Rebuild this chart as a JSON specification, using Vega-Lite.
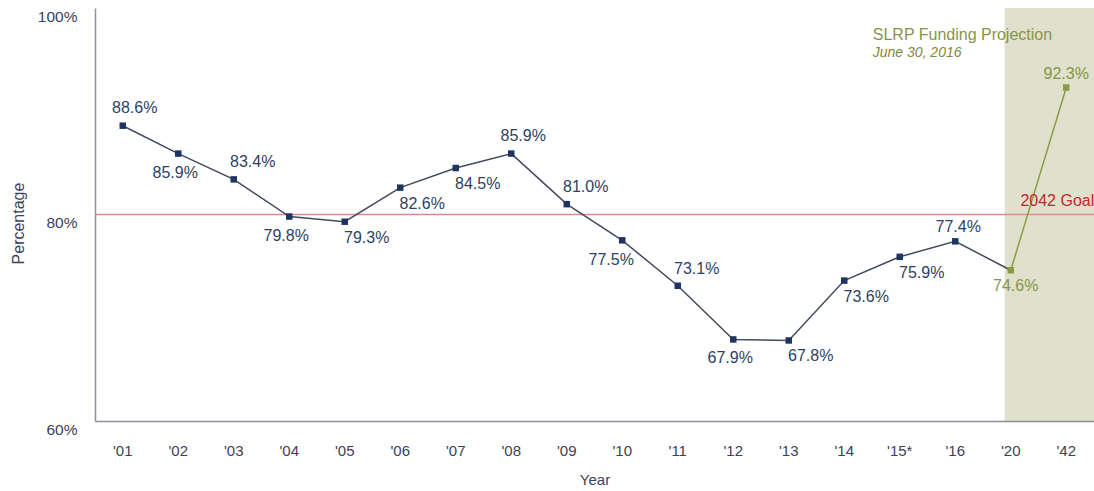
{
  "$schema": "https://vega.github.io/schema/vega-lite/v6.json",
  "width": 999,
  "height": 413,
  "autosize": "none",
  "padding": {"left": 95, "top": 8, "right": 0, "bottom": 70},
  "background": "white",
  "config": {
    "view": {"stroke": null},
    "font": "Liberation Sans",
    "text": {"font": "Liberation Sans"}
  },
  "data": {
    "values": [
      {"year": "'01", "value": 0.886, "series": "Actual"},
      {"year": "'02", "value": 0.859, "series": "Actual"},
      {"year": "'03", "value": 0.834, "series": "Actual"},
      {"year": "'04", "value": 0.798, "series": "Actual"},
      {"year": "'05", "value": 0.793, "series": "Actual"},
      {"year": "'06", "value": 0.826, "series": "Actual"},
      {"year": "'07", "value": 0.845, "series": "Actual"},
      {"year": "'08", "value": 0.859, "series": "Actual"},
      {"year": "'09", "value": 0.810, "series": "Actual"},
      {"year": "'10", "value": 0.775, "series": "Actual"},
      {"year": "'11", "value": 0.731, "series": "Actual"},
      {"year": "'12", "value": 0.679, "series": "Actual"},
      {"year": "'13", "value": 0.678, "series": "Actual"},
      {"year": "'14", "value": 0.736, "series": "Actual"},
      {"year": "'15*", "value": 0.759, "series": "Actual"},
      {"year": "'16", "value": 0.774, "series": "Actual"},
      {"year": "'20", "value": 0.746, "series": "Projection"},
      {"year": "'42", "value": 0.923, "series": "Projection"}
    ]
  },
  "encoding": {
    "x": {
      "field": "year",
      "type": "ordinal",
      "sort": ["'01","'02","'03","'04","'05","'06","'07","'08","'09","'10","'11","'12","'13","'14","'15*","'16","'20","'42"],
      "scale": {"type": "band", "paddingInner": 0, "paddingOuter": 0},
      "axis": {
        "title": "Year",
        "labelAngle": 0,
        "ticks": false,
        "tickSize": 0,
        "labelPadding": 22,
        "labelFont": "Liberation Sans",
        "labelFontSize": 15,
        "labelColor": "#3a4258",
        "titleFont": "Liberation Sans",
        "titleFontSize": 15,
        "titleFontWeight": "normal",
        "titleColor": "#3a4258",
        "titlePadding": 14,
        "domainColor": "#8d9099",
        "domainWidth": 1.5,
        "grid": false
      }
    },
    "y": {
      "field": "value",
      "type": "quantitative",
      "scale": {"domain": [0.6, 1.0], "nice": false, "zero": false},
      "axis": {
        "title": "Percentage",
        "values": [0.6, 0.8, 1.0],
        "format": ".0%",
        "ticks": false,
        "tickSize": 0,
        "grid": false,
        "labelPadding": 18,
        "labelOffset": 8,
        "labelFlush": false,
        "labelFont": "Liberation Sans",
        "labelFontSize": 15.5,
        "labelColor": "#3a4258",
        "titleFont": "Liberation Sans",
        "titleFontSize": 16,
        "titleFontWeight": "normal",
        "titleColor": "#3a4258",
        "titleX": -69,
        "titleY": 215,
        "domainColor": "#8d9099",
        "domainWidth": 1.5
      }
    }
  },
  "layer": [
    {
      "data": {"values": [{"start": "'20", "end": "'42"}]},
      "mark": {"type": "rect", "color": "#dfe1cc"},
      "encoding": {
        "x": {"field": "start", "type": "ordinal", "bandPosition": 0.39},
        "x2": {"field": "end", "bandPosition": 1},
        "y": null
      }
    },
    {
      "data": {"values": [{"goal": 0.8}]},
      "mark": {"type": "rule", "color": "#d98a90", "strokeWidth": 1.3},
      "encoding": {
        "x": null,
        "y": {"field": "goal", "type": "quantitative"}
      }
    },
    {
      "transform": [{"filter": "datum.year != \"'42\""}],
      "mark": {"type": "line", "color": "#434a5e", "strokeWidth": 1.5}
    },
    {
      "transform": [{"filter": "datum.series == 'Projection'"}],
      "mark": {"type": "line", "color": "#8d9a45", "strokeWidth": 1.5}
    },
    {
      "mark": {"type": "point", "shape": "square", "filled": true, "size": 42, "opacity": 1},
      "encoding": {
        "color": {"field": "series", "type": "nominal", "scale": {"domain": ["Actual", "Projection"], "range": ["#1e3461", "#8d9a45"]}, "legend": null}
      }
    },
    {
      "transform": [{"filter": {"field": "year", "oneOf": ["'01", "'08"]}}],
      "mark": {"type": "text", "fontSize": 16, "dx": 12, "dy": -18, "color": "#2e3f63"},
      "encoding": {"text": {"field": "value", "format": ".1%"}}
    },
    {
      "transform": [{"filter": {"field": "year", "oneOf": ["'03", "'09", "'11"]}}],
      "mark": {"type": "text", "fontSize": 16, "dx": 19, "dy": -17, "color": "#2e3f63"},
      "encoding": {"text": {"field": "value", "format": ".1%"}}
    },
    {
      "transform": [{"filter": {"field": "year", "oneOf": ["'16"]}}],
      "mark": {"type": "text", "fontSize": 16, "dx": 3, "dy": -14, "color": "#2e3f63"},
      "encoding": {"text": {"field": "value", "format": ".1%"}}
    },
    {
      "transform": [{"filter": {"field": "year", "oneOf": ["'02", "'04", "'12"]}}],
      "mark": {"type": "text", "fontSize": 16, "dx": -3, "dy": 19, "color": "#2e3f63"},
      "encoding": {"text": {"field": "value", "format": ".1%"}}
    },
    {
      "transform": [{"filter": {"field": "year", "oneOf": ["'10"]}}],
      "mark": {"type": "text", "fontSize": 16, "dx": -11, "dy": 20, "color": "#2e3f63"},
      "encoding": {"text": {"field": "value", "format": ".1%"}}
    },
    {
      "transform": [{"filter": {"field": "year", "oneOf": ["'05", "'06", "'07", "'13", "'14", "'15*"]}}],
      "mark": {"type": "text", "fontSize": 16, "dx": 22, "dy": 16, "color": "#2e3f63"},
      "encoding": {"text": {"field": "value", "format": ".1%"}}
    },
    {
      "transform": [{"filter": {"field": "year", "oneOf": ["'20"]}}],
      "mark": {"type": "text", "fontSize": 16, "dx": 5, "dy": 16, "color": "#879448"},
      "encoding": {"text": {"field": "value", "format": ".1%"}}
    },
    {
      "transform": [{"filter": {"field": "year", "oneOf": ["'42"]}}],
      "mark": {"type": "text", "fontSize": 16, "dx": 0, "dy": -14, "color": "#879448"},
      "encoding": {"text": {"field": "value", "format": ".1%"}}
    },
    {
      "data": {"values": [{"year": "'42", "value": 0.8, "note": "2042 Goal"}]},
      "mark": {"type": "text", "fontSize": 16, "align": "right", "dx": 28, "dy": -14, "color": "#c0282f"},
      "encoding": {"text": {"field": "note"}}
    },
    {
      "data": {"values": [{"year": "'15*", "value": 0.974, "note": "SLRP Funding Projection"}]},
      "mark": {"type": "text", "fontSize": 16, "align": "left", "dx": -27, "color": "#879448"},
      "encoding": {"text": {"field": "note"}}
    },
    {
      "data": {"values": [{"year": "'15*", "value": 0.9564, "note": "June 30, 2016"}]},
      "mark": {"type": "text", "fontSize": 14, "fontStyle": "italic", "align": "left", "dx": -27, "color": "#7d8a3a"},
      "encoding": {"text": {"field": "note"}}
    }
  ]
}
